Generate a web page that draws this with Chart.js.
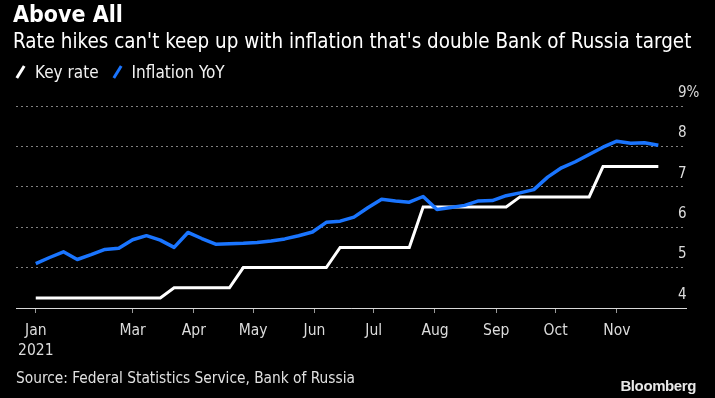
<!DOCTYPE html>
<html>
<head>
<meta charset="utf-8">
<script src="https://cdn.jsdelivr.net/npm/chart.js@4.4.1/dist/chart.umd.min.js"></script>
<style>
  html, body { margin: 0; padding: 0; background: #000; }
  body { width: 715px; height: 398px; position: relative; overflow: hidden;
         font-family: 'DejaVu Sans Condensed', 'DejaVu Sans', sans-serif; color: #fff; }
  .t { position: absolute; white-space: nowrap; line-height: 1; }
  #title { left: 13px; top: 3px; font-size: 23px; font-weight: bold; }
  #subtitle { left: 13px; top: 31px; font-size: 20.4px; }
  #legend { left: 19px; top: 64px; font-size: 17px; color: #f2f2f2; }
  #legend .ico { display: inline-block; width: 3px; height: 14px; transform: rotate(32deg);
                 vertical-align: -1px; margin-right: 13px; }
  #legend .item { margin-right: 17px; }
  #source { left: 16px; top: 371px; font-size: 15.3px; color: #e0e0e0; }
  #brand { right: 19px; top: 378px; font-size: 15px; font-weight: bold; letter-spacing: -0.4px;
           font-family: 'Liberation Sans', Arial, sans-serif; color: #e8e8e8; }
  canvas { position: absolute; left: 0; top: 0; }
</style>
</head>
<body>
<canvas id="c" width="715" height="398"></canvas>
<div class="t" id="title">Above All</div>
<div class="t" id="subtitle">Rate hikes can't keep up with inflation that's double Bank of Russia target</div>
<div class="t" id="legend"><span class="item"><span class="ico" style="background:#ffffff"></span>Key rate</span><span class="item"><span class="ico" style="background:#1a75ff"></span>Inflation YoY</span></div>
<div class="t" id="source">Source: Federal Statistics Service, Bank of Russia</div>
<div class="t" id="brand">Bloomberg</div>
<script>
// Weekly observation dates (2021)
const dates = [
  '2021-01-11','2021-01-18','2021-01-25','2021-02-01','2021-02-08','2021-02-15','2021-02-22',
  '2021-03-01','2021-03-08','2021-03-15','2021-03-22','2021-03-29','2021-04-05','2021-04-12',
  '2021-04-19','2021-04-26','2021-05-03','2021-05-10','2021-05-17','2021-05-24','2021-05-31',
  '2021-06-07','2021-06-14','2021-06-21','2021-06-28','2021-07-05','2021-07-12','2021-07-19',
  '2021-07-26','2021-08-02','2021-08-09','2021-08-16','2021-08-23','2021-08-30','2021-09-06',
  '2021-09-13','2021-09-20','2021-09-27','2021-10-04','2021-10-11','2021-10-18','2021-10-25',
  '2021-11-01','2021-11-08','2021-11-15','2021-11-22'
];
// Bank of Russia key rate, %
const keyRate = [
  4.25,4.25,4.25,4.25,4.25,4.25,4.25,4.25,4.25,4.25,
  4.5,4.5,4.5,4.5,4.5,
  5.0,5.0,5.0,5.0,5.0,5.0,5.0,
  5.5,5.5,5.5,5.5,5.5,5.5,
  6.5,6.5,6.5,6.5,6.5,6.5,6.5,
  6.75,6.75,6.75,6.75,6.75,6.75,
  7.5,7.5,7.5,7.5,7.5
];
// Inflation YoY, %
const inflation = [
  5.10,5.25,5.39,5.20,5.32,5.45,5.48,5.69,5.79,5.68,
  5.50,5.87,5.72,5.58,5.59,5.60,5.62,5.66,5.71,5.79,
  5.88,6.12,6.15,6.25,6.48,6.69,6.65,6.62,6.76,6.44,
  6.49,6.54,6.65,6.66,6.78,6.85,6.93,7.24,7.47,7.62,
  7.80,7.98,8.13,8.08,8.09,8.03
];
// X-axis ticks
const tickDates = ['2021-01-11','2021-03-01','2021-04-01','2021-05-01','2021-06-01','2021-07-01','2021-08-01','2021-09-01','2021-10-01','2021-11-01'];
const tickLabels = [['Jan','2021'],'Mar','Apr','May','Jun','Jul','Aug','Sep','Oct','Nov'];
const yTicks = [4,5,6,7,8,9];
const axisStart = '2021-01-01';
const axisEnd = '2021-12-06';

const dayOf = s => (Date.parse(s) - Date.parse(axisStart)) / 86400000;
const FONT = "'DejaVu Sans Condensed', 'DejaVu Sans', sans-serif";

new Chart(document.getElementById('c'), {
  type: 'line',
  data: {
    datasets: [
      { label: 'Key rate', data: dates.map((d,i) => ({x: dayOf(d), y: keyRate[i]})),
        borderColor: '#ffffff', borderWidth: 3, pointRadius: 0, tension: 0, order: 1,
        borderJoinStyle: 'miter' },
      { label: 'Inflation YoY', data: dates.map((d,i) => ({x: dayOf(d), y: inflation[i]})),
        borderColor: '#1a75ff', borderWidth: 3.5, pointRadius: 0, tension: 0, order: 0,
        borderJoinStyle: 'round' }
    ]
  },
  options: {
    responsive: false,
    animation: false,
    layout: { padding: { top: 106, left: 16, right: 0, bottom: 30 } },
    plugins: { legend: { display: false }, tooltip: { enabled: false } },
    scales: {
      x: {
        type: 'linear',
        min: dayOf(axisStart), max: dayOf(axisEnd),
        afterBuildTicks: s => { s.ticks = tickDates.map(d => ({ value: dayOf(d) })); },
        afterFit: s => { s.height = 60; },
        ticks: {
          autoSkip: false, maxRotation: 0, padding: 8, color: '#dcdcdc',
          font: { family: FONT, size: 15.5, lineHeight: 1.29 },
          callback: (v, i) => tickLabels[i]
        },
        grid: { drawOnChartArea: false, drawTicks: true, tickLength: 5, color: '#9a9a9a' },
        border: { display: true, color: '#d8d8d8', width: 1 }
      },
      y: {
        position: 'right',
        min: 4, max: 9,
        afterBuildTicks: s => { s.ticks = yTicks.map(v => ({ value: v })); },
        afterFit: s => { s.width = 29; s._computeLabelArea = () => undefined; },
        ticks: {
          padding: -8, crossAlign: 'near', labelOffset: -13, color: '#dcdcdc',
          font: { family: FONT, size: 15 },
          callback: v => v === 9 ? '9%' : String(v)
        },
        grid: { drawTicks: false, color: '#808080', lineWidth: 1 },
        border: { display: false, dash: [2, 3] }
      }
    }
  }
});
</script>
</body>
</html>
